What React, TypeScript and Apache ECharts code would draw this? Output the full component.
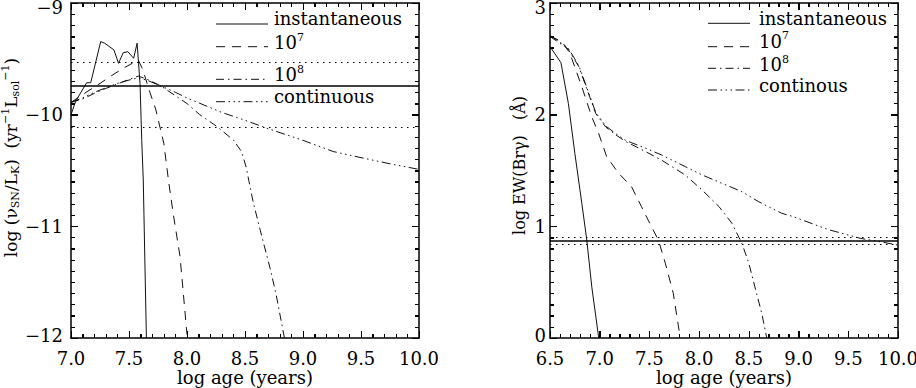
import React, { useEffect, useRef } from "react";
import * as echarts from "echarts";

// ---------- data ----------
// Left panel: log(nu_SN / L_K) vs log age
const leftInstantaneous: number[][] = [
  [7.0, -10.0], [7.04, -9.88], [7.135, -9.714], [7.17, -9.714], [7.256, -9.346],
  [7.29, -9.36], [7.37, -9.42], [7.41, -9.54], [7.45, -9.445], [7.49, -9.436],
  [7.54, -9.495], [7.57, -9.36], [7.595, -9.72], [7.61, -10.23], [7.623, -10.585],
  [7.65, -12.0],
];
const left1e7: number[][] = [
  [7.0, -9.89], [7.13, -9.8], [7.25, -9.72], [7.35, -9.65], [7.45, -9.585],
  [7.58, -9.51], [7.62, -9.6], [7.68, -9.8], [7.73, -9.95], [7.8, -10.256],
  [7.84, -10.585], [7.88, -10.88], [7.94, -11.27], [8.0, -11.97],
];
const left1e8: number[][] = [
  [7.0, -9.89], [7.1, -9.86], [7.2, -9.81], [7.3, -9.765], [7.4, -9.725],
  [7.5, -9.685], [7.58, -9.655], [7.65, -9.68], [7.77, -9.74], [7.9, -9.83],
  [8.0, -9.9], [8.11, -10.0], [8.25, -10.1], [8.4, -10.227], [8.47, -10.33],
  [8.51, -10.47], [8.535, -10.6], [8.57, -10.78], [8.63, -11.03], [8.72, -11.39],
  [8.77, -11.62], [8.84, -12.0],
];
const leftContinuous: number[][] = [
  [7.0, -9.89], [7.1, -9.85], [7.2, -9.8], [7.3, -9.76], [7.4, -9.72],
  [7.5, -9.69], [7.58, -9.67], [7.65, -9.69], [7.77, -9.74], [7.9, -9.8],
  [8.0, -9.85], [8.11, -9.898], [8.3, -9.98], [8.5, -10.05], [8.69, -10.122],
  [9.0, -10.23], [9.26, -10.33], [9.5, -10.385], [9.75, -10.44], [10.0, -10.49],
];
const leftSolidRef = -9.737;
const leftDottedRefs = [-9.534, -10.108];

// Right panel: log EW(Br gamma) vs log age
const rightInstantaneous: number[][] = [
  [6.5, 2.61], [6.61, 2.466], [6.685, 2.1], [6.75, 1.654], [6.82, 1.206],
  [6.87, 0.878], [6.92, 0.46], [6.99, 0.0],
];
const right1e7: number[][] = [
  [6.5, 2.704], [6.62, 2.654], [6.7, 2.55], [6.82, 2.25], [6.92, 1.98],
  [6.99, 1.83], [7.07, 1.624], [7.19, 1.475], [7.32, 1.355], [7.42, 1.176],
  [7.52, 0.997], [7.59, 0.878], [7.66, 0.669], [7.74, 0.4], [7.81, 0.0],
];
const right1e8: number[][] = [
  [6.5, 2.7], [6.68, 2.59], [6.79, 2.43], [6.96, 2.01], [7.06, 1.89],
  [7.16, 1.82], [7.26, 1.76], [7.46, 1.67], [7.62, 1.594], [7.86, 1.46],
  [8.03, 1.325], [8.2, 1.176], [8.33, 1.027], [8.43, 0.848], [8.5, 0.669],
  [8.56, 0.46], [8.63, 0.22], [8.68, 0.0],
];
const rightContinuous: number[][] = [
  [6.5, 2.71], [6.68, 2.6], [6.79, 2.44], [6.96, 2.02], [7.06, 1.9],
  [7.16, 1.83], [7.26, 1.77], [7.46, 1.7], [7.62, 1.64], [7.86, 1.535],
  [8.03, 1.46], [8.23, 1.385], [8.43, 1.31], [8.6, 1.22], [8.83, 1.117],
  [8.95, 1.086], [9.29, 0.973], [9.62, 0.893], [10.0, 0.833],
];
const rightSolidRef = 0.872;
const rightDottedRefs = [0.902, 0.845];

const leftLegend = ["instantaneous", "10{sup|7}", "10{sup|8}", "continuous"];
const rightLegend = ["instantaneous", "10{sup|7}", "10{sup|8}", "continous"];

// axis ranges and tick steps
const leftX = { min: 7.0, max: 10.0 };
const rightX = { min: 6.5, max: 10.0 };
const leftY = { min: -12, max: -9 };
const rightY = { min: 0, max: 3 };
const X_MAJOR = 0.5;
const X_MINOR_PER_MAJOR = 5;
const Y_MAJOR = 1;
const Y_MINOR_PER_MAJOR = 10;

// ---------- styles ----------
const FONT = "DejaVu Serif";
const INK = "#111";
const DASHES: (number[] | "solid")[] = [
  "solid",
  [9, 7],
  [8, 4, 1.5, 4],
  [9, 3.5, 1.5, 3.5, 1.5, 3.5, 1.5, 3.5],
];

function richStyles(size: number) {
  const small = Math.round(size * 0.62);
  return {
    n: { fontFamily: FONT, fontSize: size, color: "#000", lineHeight: size + 4, verticalAlign: "middle" },
    sup: { fontFamily: FONT, fontSize: small, color: "#000", lineHeight: small, verticalAlign: "top" },
    sub: { fontFamily: FONT, fontSize: small, color: "#000", lineHeight: small, verticalAlign: "bottom" },
  };
}

const TICK_ON = {
  axisTick: { show: true, inside: true, length: 7, lineStyle: { color: "#000", width: 1 } },
  minorTick: { show: true, length: 4, lineStyle: { color: "#000", width: 1 } },
};

function xAxisPair(grid: number, r: { min: number; max: number }) {
  const common = {
    type: "value",
    gridIndex: grid,
    min: r.min,
    max: r.max,
    interval: X_MAJOR,
    splitLine: { show: false },
    axisLine: { show: true, onZero: false, lineStyle: { color: "#000", width: 1.5 } },
    axisTick: TICK_ON.axisTick,
    minorTick: { ...TICK_ON.minorTick, splitNumber: X_MINOR_PER_MAJOR },
  };
  return [
    {
      ...common,
      position: "bottom",
      axisLabel: {
        show: true,
        margin: 11,
        color: "#000",
        fontFamily: FONT,
        fontSize: 18,
        lineHeight: 18,
        hideOverlap: false,
        formatter: (v: number) => v.toFixed(1),
      },
      name: "log age (years)",
      nameLocation: "middle",
      nameGap: 30,
      nameMoveOverlap: false,
      nameTextStyle: { fontFamily: FONT, fontSize: 18, lineHeight: 18, color: "#000" },
    },
    { ...common, position: "top", axisLabel: { show: false } },
  ];
}

function yAxisPair(
  grid: number,
  r: { min: number; max: number },
  labelMargin: number,
  name: string,
  nameGap: number,
  nameSize: number,
  namePad: number[]
) {
  const lab = { fontFamily: FONT, fontSize: 18, color: "#000", lineHeight: 18 };
  const common = {
    type: "value",
    gridIndex: grid,
    min: r.min,
    max: r.max,
    interval: Y_MAJOR,
    splitLine: { show: false },
    axisLine: { show: true, onZero: false, lineStyle: { color: "#000", width: 1.5 } },
    axisTick: TICK_ON.axisTick,
    minorTick: { ...TICK_ON.minorTick, splitNumber: Y_MINOR_PER_MAJOR },
  };
  return [
    {
      ...common,
      position: "left",
      axisLabel: {
        show: true,
        margin: labelMargin,
        ...lab,
        formatter: (v: number) => {
          const s = String(v).replace("-", "\u2212");
          if (v === r.max) return "{t|" + s + "}";
          if (v === r.min) return "{b|" + s + "}";
          return s;
        },
        rich: {
          t: { ...lab, padding: [8, 0, 0, 0] },
          b: { ...lab, padding: [0, 0, 6, 0] },
        },
      },
      name,
      nameLocation: "middle",
      nameRotate: 90,
      nameGap,
      nameMoveOverlap: false,
      nameTextStyle: { rich: richStyles(nameSize), padding: namePad },
    },
    { ...common, position: "right", axisLabel: { show: false } },
  ];
}

function curve(data: number[][], idx: number, axisIdx: number) {
  return {
    type: "line",
    xAxisIndex: axisIdx,
    yAxisIndex: axisIdx,
    data,
    showSymbol: false,
    symbol: "none",
    silent: true,
    clip: true,
    lineStyle: { color: INK, width: 1, type: DASHES[idx] },
  };
}

function refLines(axisIdx: number, solid: number, dotted: number[]) {
  return {
    type: "line",
    xAxisIndex: axisIdx,
    yAxisIndex: axisIdx,
    data: [],
    silent: true,
    markLine: {
      silent: true,
      symbol: ["none", "none"],
      label: { show: false },
      data: [
        { yAxis: solid, lineStyle: { color: "#000", width: 1.6, type: "solid" } },
        ...dotted.map((d) => ({ yAxis: d, lineStyle: { color: "#000", width: 1, type: [1.5, 4.5] } })),
      ],
    },
  };
}

function legendGraphics(labels: string[], x1: number, x2: number, tx: number, lineYs: number[], textYs: number[]) {
  const els: any[] = [];
  labels.forEach((lab, i) => {
    els.push({
      type: "line",
      silent: true,
      shape: { x1, y1: lineYs[i], x2, y2: lineYs[i] },
      style: { stroke: INK, lineWidth: 1, lineDash: DASHES[i] === "solid" ? null : DASHES[i] },
    });
    els.push({
      type: "text",
      silent: true,
      x: tx,
      y: textYs[i],
      style: {
        text: lab.includes("{") ? lab.replace(/^([^{]+)/, "{n|$1}") : lab,
        fontFamily: FONT,
        fontSize: 18,
        fill: "#000",
        verticalAlign: "middle",
        align: "left",
        rich: {
          n: { fontFamily: FONT, fontSize: 18, fill: "#000", lineHeight: 20, verticalAlign: "bottom" },
          sup: { fontFamily: FONT, fontSize: 11, fill: "#000", lineHeight: 14, verticalAlign: "top" },
        },
      },
    });
  });
  return els;
}

// tick marks on all four sides, positioned with the chart's own axis scales
function tickGraphics(
  chart: any,
  xIdx: number,
  yIdx: number,
  xr: { min: number; max: number },
  yr: { min: number; max: number }
) {
  const els: any[] = [];
  const toX = (v: number) => Number(chart.convertToPixel({ xAxisIndex: xIdx }, v));
  const toY = (v: number) => Number(chart.convertToPixel({ yAxisIndex: yIdx }, v));
  const left = Math.round(toX(xr.min));
  const right = Math.round(toX(xr.max));
  const bottom = Math.round(toY(yr.min));
  const top = Math.round(toY(yr.max));
  if (![left, right, bottom, top].every(Number.isFinite)) return els;
  const xStep = X_MAJOR / X_MINOR_PER_MAJOR;
  const nx = Math.round((xr.max - xr.min) / xStep);
  for (let i = 1; i < nx; i++) {
    const px = Math.round(toX(xr.min + i * xStep));
    const len = i % X_MINOR_PER_MAJOR === 0 ? 7 : 4;
    els.push({ type: "rect", silent: true, z: 20, shape: { x: px, y: bottom - len, width: 1, height: len }, style: { fill: "#000" } });
    els.push({ type: "rect", silent: true, z: 20, shape: { x: px, y: top, width: 1, height: len }, style: { fill: "#000" } });
  }
  const yStep = Y_MAJOR / Y_MINOR_PER_MAJOR;
  const ny = Math.round((yr.max - yr.min) / yStep);
  for (let i = 1; i < ny; i++) {
    const py = Math.round(toY(yr.min + i * yStep));
    const len = i % Y_MINOR_PER_MAJOR === 0 ? 7 : 4;
    els.push({ type: "rect", silent: true, z: 20, shape: { x: left, y: py, width: len, height: 1 }, style: { fill: "#000" } });
    els.push({ type: "rect", silent: true, z: 20, shape: { x: right - len, y: py, width: len, height: 1 }, style: { fill: "#000" } });
  }
  return els;
}

const leftYName =
  "{n|log (\u03bd}{sub|SN}{n|/L}{sub|K}{n|)  (yr}{sup|\u22121}{n|L}{sub|sol}{sup|\u22121}{n|)}";
const rightYName = "{n|log EW(Br\u03b3)   (\u00c5)}";

export default function App() {
  const ref = useRef<HTMLDivElement>(null);
  useEffect(() => {
    if (!ref.current) return;
    const chart = echarts.init(ref.current, undefined, { renderer: "svg" });
    const [lxb, lxt] = xAxisPair(0, leftX);
    const [rxb, rxt] = xAxisPair(1, rightX);
    const [lyl, lyr] = yAxisPair(0, leftY, 8, leftYName, 50, 17, [0, 0, 0, 26]);
    const [ryl, ryr] = yAxisPair(1, rightY, 4, rightYName, 21, 16, [0, 0, 0, 10]);
    const legends = [
      ...legendGraphics(leftLegend, 216, 268, 274, [24, 46.7, 79.3, 101.7], [18.2, 41.7, 73.7, 96.7]),
      ...legendGraphics(rightLegend, 708, 750, 759, [23.3, 46.7, 68.3, 90], [18.7, 40.4, 63.7, 85.4]),
    ];
    chart.setOption({
      animation: false,
      backgroundColor: "#fff",
      textStyle: { fontFamily: FONT },
      grid: [
        { left: 71, right: 497, top: 3, bottom: 50, containLabel: false, outerBoundsMode: "none" },
        { left: 550, right: 18, top: 3, bottom: 50, containLabel: false, outerBoundsMode: "none" },
      ],
      xAxis: [lxb, lxt, rxb, rxt],
      yAxis: [lyl, lyr, ryl, ryr],
      series: [
        refLines(0, leftSolidRef, leftDottedRefs),
        curve(leftInstantaneous, 0, 0),
        curve(left1e7, 1, 0),
        curve(left1e8, 2, 0),
        curve(leftContinuous, 3, 0),
        refLines(2, rightSolidRef, rightDottedRefs),
        curve(rightInstantaneous, 0, 2),
        curve(right1e7, 1, 2),
        curve(right1e8, 2, 2),
        curve(rightContinuous, 3, 2),
      ],
      graphic: legends,
    });
    const ticks = [
      ...tickGraphics(chart, 0, 0, leftX, leftY),
      ...tickGraphics(chart, 2, 2, rightX, rightY),
    ];
    chart.setOption({ graphic: [...legends, ...ticks] });
    return () => chart.dispose();
  }, []);
  return (
    <div
      ref={ref}
      style={{ position: "absolute", left: 0, top: 0, width: 916, height: 388, background: "#fff" }}
    />
  );
}
